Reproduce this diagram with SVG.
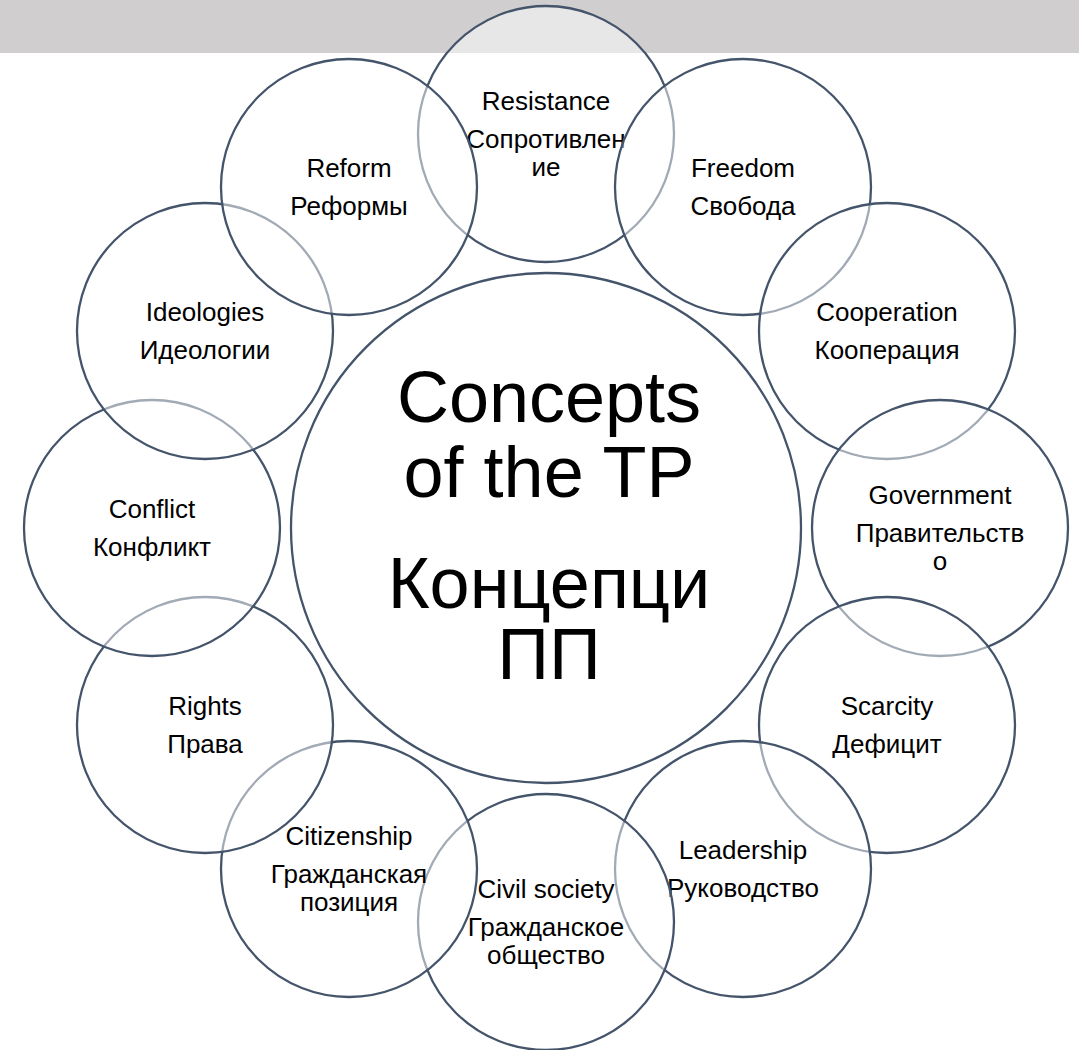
<svg xmlns="http://www.w3.org/2000/svg" width="1079" height="1050" viewBox="0 0 1079 1050">
<style>
  .c { fill: #ffffff; fill-opacity: 0.5; stroke: #44546a; stroke-width: 2.3; }
  .t { font-family: "Liberation Sans", Arial, sans-serif; font-size: 26px; fill: #000000; text-anchor: middle; }
  .big { font-family: "Liberation Sans", Arial, sans-serif; font-size: 72px; fill: #000000; text-anchor: middle; }
</style>
<rect x="0" y="0" width="1079" height="53" fill="#d0cecf"/>
<g id="center">
  <circle cx="546" cy="528" r="255" fill="#ffffff" stroke="#44546a" stroke-width="2.3"/>
  <text class="big"><tspan x="549" y="422">Concepts</tspan><tspan x="549" y="497">of the TP</tspan><tspan x="549" y="608">Концепци</tspan><tspan x="549" y="679">ПП</tspan></text>
</g>
<g id="resistance">
  <circle class="c" cx="546" cy="134" r="128"/>
  <text class="t"><tspan x="546" y="110.3">Resistance</tspan><tspan x="546" y="148.3">Сопротивлен</tspan><tspan x="546" y="176.3">ие</tspan></text>
</g>
<g id="freedom">
  <circle class="c" cx="743" cy="187" r="128"/>
  <text class="t"><tspan x="743" y="177.3">Freedom</tspan><tspan x="743" y="215.3">Свобода</tspan></text>
</g>
<g id="cooperation">
  <circle class="c" cx="887" cy="331" r="128"/>
  <text class="t"><tspan x="887" y="321.3">Cooperation</tspan><tspan x="887" y="359.3">Кооперация</tspan></text>
</g>
<g id="government">
  <circle class="c" cx="940" cy="528" r="128"/>
  <text class="t"><tspan x="940" y="504.3">Government</tspan><tspan x="940" y="542.3">Правительств</tspan><tspan x="940" y="570.3">о</tspan></text>
</g>
<g id="scarcity">
  <circle class="c" cx="887" cy="725" r="128"/>
  <text class="t"><tspan x="887" y="715.3">Scarcity</tspan><tspan x="887" y="753.3">Дефицит</tspan></text>
</g>
<g id="leadership">
  <circle class="c" cx="743" cy="869" r="128"/>
  <text class="t"><tspan x="743" y="859.3">Leadership</tspan><tspan x="743" y="897.3">Руководство</tspan></text>
</g>
<g id="civil-society">
  <circle class="c" cx="546" cy="922" r="128"/>
  <text class="t"><tspan x="546" y="898.3">Civil society</tspan><tspan x="546" y="936.3">Гражданское</tspan><tspan x="546" y="964.3">общество</tspan></text>
</g>
<g id="citizenship">
  <circle class="c" cx="349" cy="869" r="128"/>
  <text class="t"><tspan x="349" y="845.3">Citizenship</tspan><tspan x="349" y="883.3">Гражданская</tspan><tspan x="349" y="911.3">позиция</tspan></text>
</g>
<g id="rights">
  <circle class="c" cx="205" cy="725" r="128"/>
  <text class="t"><tspan x="205" y="715.3">Rights</tspan><tspan x="205" y="753.3">Права</tspan></text>
</g>
<g id="conflict">
  <circle class="c" cx="152" cy="528" r="128"/>
  <text class="t"><tspan x="152" y="518.3">Conflict</tspan><tspan x="152" y="556.3">Конфликт</tspan></text>
</g>
<g id="ideologies">
  <circle class="c" cx="205" cy="331" r="128"/>
  <text class="t"><tspan x="205" y="321.3">Ideologies</tspan><tspan x="205" y="359.3">Идеологии</tspan></text>
</g>
<g id="reform">
  <circle class="c" cx="349" cy="187" r="128"/>
  <text class="t"><tspan x="349" y="177.3">Reform</tspan><tspan x="349" y="215.3">Реформы</tspan></text>
</g>
<g id="connectors"/>
</svg>
